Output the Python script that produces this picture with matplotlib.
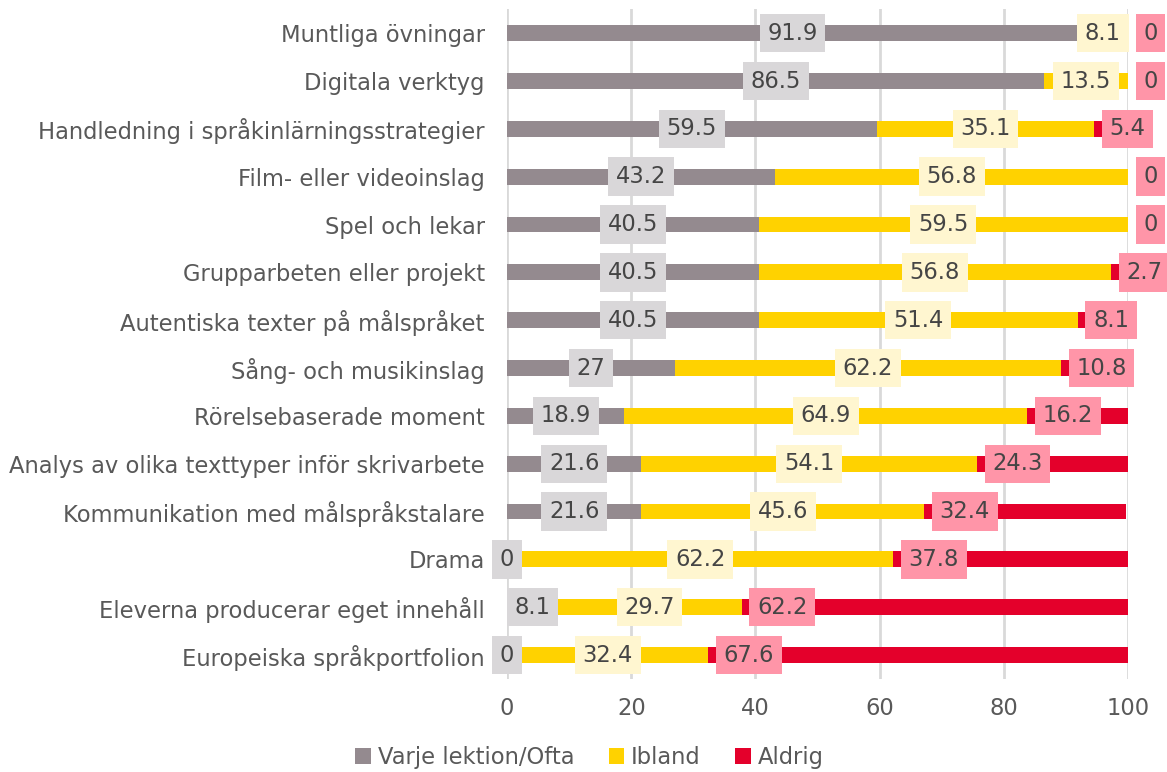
import matplotlib.pyplot as plt
import numpy as np

# data
kategorier = [
    "Muntliga övningar",
    "Digitala verktyg",
    "Handledning i språkinlärningsstrategier",
    "Film- eller videoinslag",
    "Spel och lekar",
    "Grupparbeten eller projekt",
    "Autentiska texter på målspråket",
    "Sång- och musikinslag",
    "Rörelsebaserade moment",
    "Analys av olika texttyper inför skrivarbete",
    "Kommunikation med målspråkstalare",
    "Drama",
    "Eleverna producerar eget innehåll",
    "Europeiska språkportfolion",
]
ofta = [91.9, 86.5, 59.5, 43.2, 40.5, 40.5, 40.5, 27, 18.9, 21.6, 21.6, 0, 8.1, 0]
ibland = [8.1, 13.5, 35.1, 56.8, 59.5, 56.8, 51.4, 62.2, 64.9, 54.1, 45.6, 62.2, 29.7, 32.4]
aldrig = [0, 0, 5.4, 0, 0, 2.7, 8.1, 10.8, 16.2, 24.3, 32.4, 37.8, 62.2, 67.6]
serier = ["Varje lektion/Ofta", "Ibland", "Aldrig"]

farger = ["#948A8F", "#FFD200", "#E4002B"]
etikett_bg = ["#D9D7D9", "#FFF6D0", "#FF95A8"]
textfarg = "#595959"

plt.rcParams['font.family'] = ['DejaVu Sans']

fig = plt.figure(figsize=(11.67, 7.72), dpi=100)
ax = fig.add_axes([0.4345, 0.1205, 0.5321, 0.8675])

y = np.arange(len(kategorier))
ofta = np.array(ofta)
ibland = np.array(ibland)
aldrig = np.array(aldrig)

ax.barh(y, ofta, height=0.33, color=farger[0], label=serier[0], zorder=2)
ax.barh(y, ibland, left=ofta, height=0.33, color=farger[1], label=serier[1], zorder=2)
ax.barh(y, aldrig, left=ofta + ibland, height=0.33, color=farger[2], label=serier[2], zorder=2)

fs = 16.3
box = 'square,pad=0.34'
for i in range(len(kategorier)):
    # gray + yellow: centered
    ax.text(ofta[i] / 2, y[i], f"{ofta[i]:g}", ha='center', va='center', fontsize=fs,
            color='#454545', zorder=3,
            bbox=dict(boxstyle=box, fc=etikett_bg[0], ec='none'))
    ax.text(ofta[i] + ibland[i] / 2, y[i], f"{ibland[i]:g}", ha='center', va='center',
            fontsize=fs, color='#454545', zorder=3,
            bbox=dict(boxstyle=box, fc=etikett_bg[1], ec='none'))
    # red: inside base
    ax.annotate(f"{aldrig[i]:g}", (ofta[i] + ibland[i], y[i]), xytext=(11, 0),
                textcoords='offset points', ha='left', va='center', fontsize=fs,
                color='#454545', zorder=3, annotation_clip=False,
                bbox=dict(boxstyle=box, fc=etikett_bg[2], ec='none'))

ax.set_xlim(0, 100)
ax.set_ylim(len(kategorier) - 0.5, -0.5)
ax.set_yticks(y)
ax.set_yticklabels(kategorier)
ax.set_xticks(range(0, 101, 20))
ax.tick_params(axis='both', length=0, labelsize=fs, labelcolor=textfarg)
ax.tick_params(axis='y', pad=16)
ax.tick_params(axis='x', pad=13)
ax.grid(axis='x', color='#D9D9D9', linewidth=2, zorder=0)
ax.set_axisbelow(True)
for s in ax.spines.values():
    s.set_visible(False)

h, l = ax.get_legend_handles_labels()
fig.legend(h, l, loc='lower center', bbox_to_anchor=(0.505, -0.022), ncol=3, frameon=False,
           fontsize=fs, labelcolor=textfarg, handlelength=0.7, handleheight=0.7,
           handletextpad=0.3, columnspacing=1.5)

fig.savefig("out.png", dpi=100)
